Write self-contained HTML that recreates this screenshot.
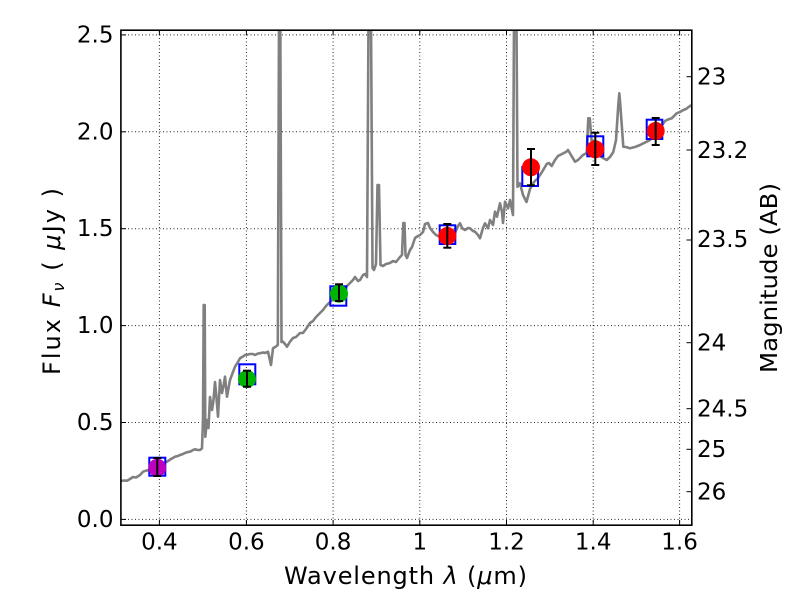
<!DOCTYPE html>
<html>
<head>
<meta charset="utf-8">
<style>
html,body{margin:0;padding:0;background:#fff;}
svg{display:block;}
text{font-family:"DejaVu Sans","Liberation Sans",sans-serif;fill:#000;}
</style>
</head>
<body>
<svg width="800" height="600" viewBox="0 0 800 600" xmlns="http://www.w3.org/2000/svg">
<defs>
<clipPath id="pc"><rect x="121" y="31" width="570" height="493"/></clipPath>
</defs>
<rect x="0" y="0" width="800" height="600" fill="#fff"/>

<!-- grid -->
<g stroke="#000" stroke-width="1" stroke-dasharray="1,2.5" opacity="0.85">
<line x1="159.4" y1="31" x2="159.4" y2="524"/>
<line x1="246.4" y1="31" x2="246.4" y2="524"/>
<line x1="333.1" y1="31" x2="333.1" y2="524"/>
<line x1="419.8" y1="31" x2="419.8" y2="524"/>
<line x1="506.5" y1="31" x2="506.5" y2="524"/>
<line x1="593.2" y1="31" x2="593.2" y2="524"/>
<line x1="679.6" y1="31" x2="679.6" y2="524"/>
<line x1="121" y1="519.4" x2="691" y2="519.4"/>
<line x1="121" y1="422.5" x2="691" y2="422.5"/>
<line x1="121" y1="325.6" x2="691" y2="325.6"/>
<line x1="121" y1="228.7" x2="691" y2="228.7"/>
<line x1="121" y1="131.8" x2="691" y2="131.8"/>
<line x1="121" y1="34.9" x2="691" y2="34.9"/>
</g>

<!-- spectrum -->
<g clip-path="url(#pc)">
<polyline fill="none" stroke="#808080" stroke-width="2.6" stroke-linejoin="round" points="
118,481.5 120,481 124,480.5 127,480.7 130,479 133,477 136,477.5 140,475 143,471.7 146,470.7 150,469.5 153,468 157,466 160,465 163,463.5 167,461.7 171,459 175,456.7 178,456 180,455 183,454 185,453 188,452 190,451.7 193,450 195,449.3 198,450 200,450 202,448.3 203,420 203.7,305 204.7,305 205.3,436.7 207,420 208.5,428 210,397 212,410 213.5,400 215,382 216.5,398 218,416.7 220,380 222,393 223.5,386 225,376.7 227,396.7 230,380 233,372 235,366.7 238,362 240,358.3 243,356.5 245,355 248,354.5 250,354 253,354 255,355 258,353.5 260,353.3 263,352.5 265,353 268,351.7 271,365 273,348.3 276,346.5 277.8,345 279,20 280.3,20 281.5,342 283,341.7 285,344 287,346.7 290,341.7 293,338 296,337 300,333 303,333 306,329 310,323 313,321 316,317 320,313 323,310 326,306 330,302 333,299 336,296 340,292 343,289 346,287 350,283 353,280 355,277 358,281 360,280 363,275 365,274 367,277 368.5,20 371,20 372.5,268 374,270 376,264 377.5,185 379,185 380.5,265 383,266 386,264 390,263 393,261 396,262 400,257 402,255 403.3,223 404.5,223 405.5,255 407,258 410,250 412,247 415,238 418,236 420,235 423,232 425,224 428,223 430,228 433,232 436,235 440,237 443,238 447,236 450,233 455,233 458,226 460,223.3 462,228 465,230 468,228 470,228.3 473,231 475,231.7 478,235 480,238.3 483,228 485,223.3 488,228.3 490,220 493,225 495,211.7 497,216.7 500,203.3 502,212 503,223 505,201.7 508,208.3 510,200 512,210 513,215 514,20 516.5,20 517.5,186.7 520,183.3 523,195 526.5,202 530,189 534,182 538,178 542,172 546.7,164 549,163 551.7,166 555,160 558,156 562,154 566.7,151.5 568,150 571,155 575,161.7 578,160 580,158 583,155 586.7,153 588.3,118.3 589.8,118.3 591.5,140 593,148 597,152 600,156 603,158 606.7,160 610,157 613.3,152 616,140 618.3,105 619.3,93.3 620.3,105 623.3,146.7 626,147 630,148.3 635,147 640,145 646.7,141.7 650,140 653,136 656.7,131.7 660,128 665,121 668,119.5 671.7,118.3 676.7,113.3 680,112 683.3,110 686,109 690,106 695,104"/>
</g>

<!-- squares -->
<g fill="none" stroke="#0000ff" stroke-width="2">
<rect x="149.3" y="457.7" width="16" height="18"/>
<rect x="239.3" y="364.3" width="16" height="20"/>
<rect x="330.3" y="286.3" width="16" height="19.4"/>
<rect x="439.7" y="225.3" width="15.6" height="18.7"/>
<rect x="522.3" y="167" width="15.7" height="19"/>
<rect x="587.3" y="136.3" width="16" height="20"/>
<rect x="646.7" y="119.7" width="15.6" height="19.3"/>
</g>

<!-- circles -->
<circle cx="157.3" cy="467.7" r="9" fill="#bf00bf"/>
<circle cx="247" cy="379" r="9" fill="#00b400"/>
<circle cx="339" cy="293.7" r="9" fill="#00b400"/>
<circle cx="447.3" cy="236" r="9" fill="#ff0000"/>
<circle cx="531" cy="167.3" r="9" fill="#ff0000"/>
<circle cx="595.3" cy="149.3" r="9" fill="#ff0000"/>
<circle cx="655.7" cy="131" r="9" fill="#ff0000"/>

<!-- error bars -->
<g stroke="#000" stroke-width="2">
<line x1="157.3" y1="458" x2="157.3" y2="476"/><line x1="153.3" y1="458" x2="161.3" y2="458"/><line x1="153.3" y1="476" x2="161.3" y2="476"/>
<line x1="247" y1="370.7" x2="247" y2="386.7"/><line x1="243" y1="370.7" x2="251" y2="370.7"/><line x1="243" y1="386.7" x2="251" y2="386.7"/>
<line x1="339" y1="284.3" x2="339" y2="301"/><line x1="335" y1="284.3" x2="343" y2="284.3"/><line x1="335" y1="301" x2="343" y2="301"/>
<line x1="447.3" y1="224" x2="447.3" y2="247.7"/><line x1="443.3" y1="224" x2="451.3" y2="224"/><line x1="443.3" y1="247.7" x2="451.3" y2="247.7"/>
<line x1="531" y1="149" x2="531" y2="185.3"/><line x1="527" y1="149" x2="535" y2="149"/><line x1="527" y1="185.3" x2="535" y2="185.3"/>
<line x1="595.3" y1="132.7" x2="595.3" y2="165"/><line x1="591.3" y1="132.7" x2="599.3" y2="132.7"/><line x1="591.3" y1="165" x2="599.3" y2="165"/>
<line x1="655.7" y1="118" x2="655.7" y2="145"/><line x1="651.7" y1="118" x2="659.7" y2="118"/><line x1="651.7" y1="145" x2="659.7" y2="145"/>
</g>

<!-- frame -->
<rect x="120.9" y="30.2" width="570.9" height="495" fill="none" stroke="#000" stroke-width="1.6"/>

<!-- ticks -->
<g stroke="#000" stroke-width="1">
<line x1="121" y1="519.4" x2="126" y2="519.4"/>
<line x1="121" y1="422.5" x2="126" y2="422.5"/>
<line x1="121" y1="325.6" x2="126" y2="325.6"/>
<line x1="121" y1="228.7" x2="126" y2="228.7"/>
<line x1="121" y1="131.8" x2="126" y2="131.8"/>
<line x1="121" y1="34.9" x2="126" y2="34.9"/>
<line x1="159.4" y1="525" x2="159.4" y2="520"/><line x1="159.4" y1="30" x2="159.4" y2="35"/>
<line x1="246.4" y1="525" x2="246.4" y2="520"/><line x1="246.4" y1="30" x2="246.4" y2="35"/>
<line x1="333.1" y1="525" x2="333.1" y2="520"/><line x1="333.1" y1="30" x2="333.1" y2="35"/>
<line x1="419.8" y1="525" x2="419.8" y2="520"/><line x1="419.8" y1="30" x2="419.8" y2="35"/>
<line x1="506.5" y1="525" x2="506.5" y2="520"/><line x1="506.5" y1="30" x2="506.5" y2="35"/>
<line x1="593.2" y1="525" x2="593.2" y2="520"/><line x1="593.2" y1="30" x2="593.2" y2="35"/>
<line x1="679.6" y1="525" x2="679.6" y2="520"/><line x1="679.6" y1="30" x2="679.6" y2="35"/>
<line x1="691.5" y1="76.7" x2="686.5" y2="76.7"/>
<line x1="691.5" y1="150" x2="686.5" y2="150"/>
<line x1="691.5" y1="240" x2="686.5" y2="240"/>
<line x1="691.5" y1="342.7" x2="686.5" y2="342.7"/>
<line x1="691.5" y1="408.7" x2="686.5" y2="408.7"/>
<line x1="691.5" y1="449.3" x2="686.5" y2="449.3"/>
<line x1="691.5" y1="491.7" x2="686.5" y2="491.7"/>
</g>

<!-- left tick labels -->
<g font-size="23" text-anchor="end">
<text x="113.5" y="527">0.0</text>
<text x="113.5" y="430">0.5</text>
<text x="113.5" y="333">1.0</text>
<text x="113.5" y="236">1.5</text>
<text x="113.5" y="139.5">2.0</text>
<text x="113.5" y="42.5">2.5</text>
</g>

<!-- bottom tick labels -->
<g font-size="23" text-anchor="middle">
<text x="159.4" y="549.5">0.4</text>
<text x="246.4" y="549.5">0.6</text>
<text x="333.1" y="549.5">0.8</text>
<text x="419.8" y="549.5">1</text>
<text x="506.5" y="549.5">1.2</text>
<text x="593.2" y="549.5">1.4</text>
<text x="679.6" y="549.5">1.6</text>
</g>

<!-- right tick labels -->
<g font-size="23">
<text x="697" y="84.5">23</text>
<text x="697" y="158">23.2</text>
<text x="697" y="247">23.5</text>
<text x="697" y="350.5">24</text>
<text x="697" y="416.5">24.5</text>
<text x="697" y="457">25</text>
<text x="697" y="499.5">26</text>
</g>

<!-- x label -->
<text x="284" y="584" font-size="24" textLength="243" lengthAdjust="spacing">Wavelength  <tspan font-style="italic">λ</tspan> (<tspan font-style="italic">μ</tspan>m)</text>

<!-- y label left -->
<g transform="translate(60,375) rotate(-90)">
<text x="0" y="0" font-size="24" textLength="187" lengthAdjust="spacing">Flux  <tspan font-style="italic">F</tspan><tspan font-style="italic" font-size="16" dy="4">ν</tspan><tspan dy="-4">  ( </tspan><tspan font-style="italic">μ</tspan>Jy )</text>
</g>

<!-- y label right -->
<g transform="translate(777,373) rotate(-90)">
<text x="0" y="0" font-size="23.5" textLength="190" lengthAdjust="spacingAndGlyphs">Magnitude (AB)</text>
</g>
</svg>
</body>
</html>
